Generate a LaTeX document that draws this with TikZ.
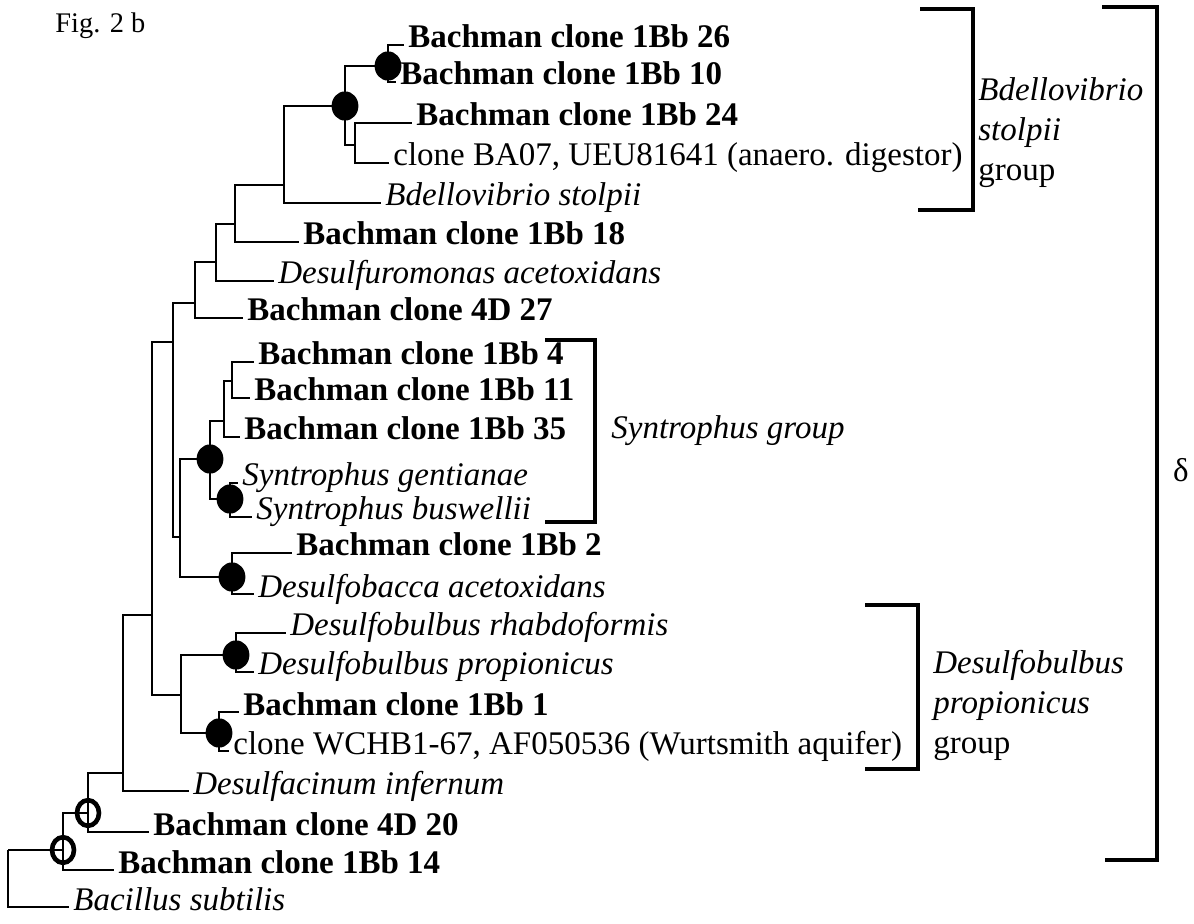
\documentclass[tikz,border=0pt]{standalone}
\usepackage{fontspec}
\setmainfont{Liberation Serif}
\usetikzlibrary{positioning}

\tikzset{
  every leaf/.style={anchor=west, inner sep=2pt, text height=12pt, text depth=9pt},
  bold leaf/.style={every leaf, font=\fontsize{16.5}{20}\selectfont\bfseries},
  italic leaf/.style={every leaf, font=\fontsize{16.5}{20}\selectfont\itshape},
  plain leaf/.style={every leaf, font=\fontsize{16.5}{20}\selectfont},
  group label/.style={anchor=west, align=left, inner sep=2pt, font=\fontsize{16.5}{20}\selectfont},
  branch/.style={line width=1.2pt},
  bracket/.style={line width=1.6pt}
}

\begin{document}
\begin{tikzpicture}[x=0.5pt, y=-0.5pt]
\useasboundingbox (0,0) rectangle (1194,924);

\node [anchor=base west, inner sep=0pt, font=\fontsize{14.2}{16}\selectfont] (fig) at (55,33) {Fig. 2 b};

\foreach \n/\x/\y in {root/8/850, n14/63/850, n20/88/813, q/123/773, p/152/615, h/173/342,
  g/195/303, f/216/262, e/235/224, d/284/185, b/345/106, a/388/66, c/355/145,
  i/180/537, j/210/459, k/224/421, l/232/381, m/230/499, dba/232/577,
  n/181/695, dbu/236/655, w/219/733}
  \coordinate (node-\n) at (\x,\y);

\foreach \n/\x/\y/\t in {26/404/45/Bachman clone 1Bb 26, 10/396/82/Bachman clone 1Bb 10,
  24/412/123/Bachman clone 1Bb 24, 18/299/242/Bachman clone 1Bb 18,
  4D27/243/318/Bachman clone 4D 27, 4/254/362/Bachman clone 1Bb 4,
  11/250/398/Bachman clone 1Bb 11, 35/240/437/Bachman clone 1Bb 35,
  2/292/553/Bachman clone 1Bb 2, 1/239/712/Bachman clone 1Bb 1,
  4D20/149/832/Bachman clone 4D 20, 14/114/870/Bachman clone 1Bb 14}
  \node [bold leaf] (leaf-\n) at (\x,\y) {\t};

\foreach \n/\x/\y/\t in {bdello/381/203/Bdellovibrio stolpii, dmonas/274/281/Desulfuromonas acetoxidans,
  gent/238/483/Syntrophus gentianae, busw/252/517/Syntrophus buswellii,
  dbacca/254/594/Desulfobacca acetoxidans, rhabdo/286/633/Desulfobulbus rhabdoformis,
  propio/254/672/Desulfobulbus propionicus, dcinum/189/791/Desulfacinum infernum,
  bacillus/69/907/Bacillus subtilis}
  \node [italic leaf] (leaf-\n) at (\x,\y) {\t};

\foreach \n/\x/\y/\t in {ba07/389/163/{clone BA07, UEU81641 (anaero. digestor)},
  wchb/229/751/{clone WCHB1-67, AF050536 (Wurtsmith aquifer)}}
  \node [plain leaf] (leaf-\n) at (\x,\y) {\t};

\foreach \p/\c in {root/n14, n14/n20, n20/q, q/p, p/h, p/n, h/g, h/i, g/f, f/e, e/d,
  d/b, b/a, b/c, i/j, i/dba, j/k, j/m, k/l, n/dbu, n/w}
  \draw [branch] (node-\p) |- (node-\c);

\foreach \p/\c in {root/bacillus, n14/14, n20/4D20, q/dcinum, g/4D27, f/dmonas, e/18,
  d/bdello, a/26, a/10, c/24, c/ba07, k/35, l/4, l/11, m/gent, m/busw,
  dba/2, dba/dbacca, dbu/rhabdo, dbu/propio, w/1, w/wchb}
  \draw [branch] (node-\p) |- (leaf-\c.west);

\foreach \n in {a,b,j,m,dba,dbu,w}
  \fill (node-\n) ellipse [x radius=6.7pt, y radius=7.3pt];

\foreach \n in {n14,n20}
  \draw [line width=2.3pt] (node-\n) ellipse [x radius=5.5pt, y radius=6.4pt];

\draw [bracket] (920,9) -| (973,210) -- (918,210);
\draw [bracket] (545,340) -| (595,522) -- (545,522);
\draw [bracket] (865,605) -| (918,769) -- (865,769);
\draw [bracket] (1102,7) -| (1157,860) -- (1105,860);

\node [group label] (bdello-group) at (974,133) {\textit{Bdellovibrio}\\\textit{stolpii}\\group};
\node [italic leaf] (syn-group) at (607,436) {Syntrophus group};
\node [group label] (dbulbus-group) at (929,705) {\textit{Desulfobulbus}\\\textit{propionicus}\\group};
\node [font=\fontsize{16.5}{20}\selectfont] (delta) at (1181,470) {δ};

\end{tikzpicture}
\end{document}
